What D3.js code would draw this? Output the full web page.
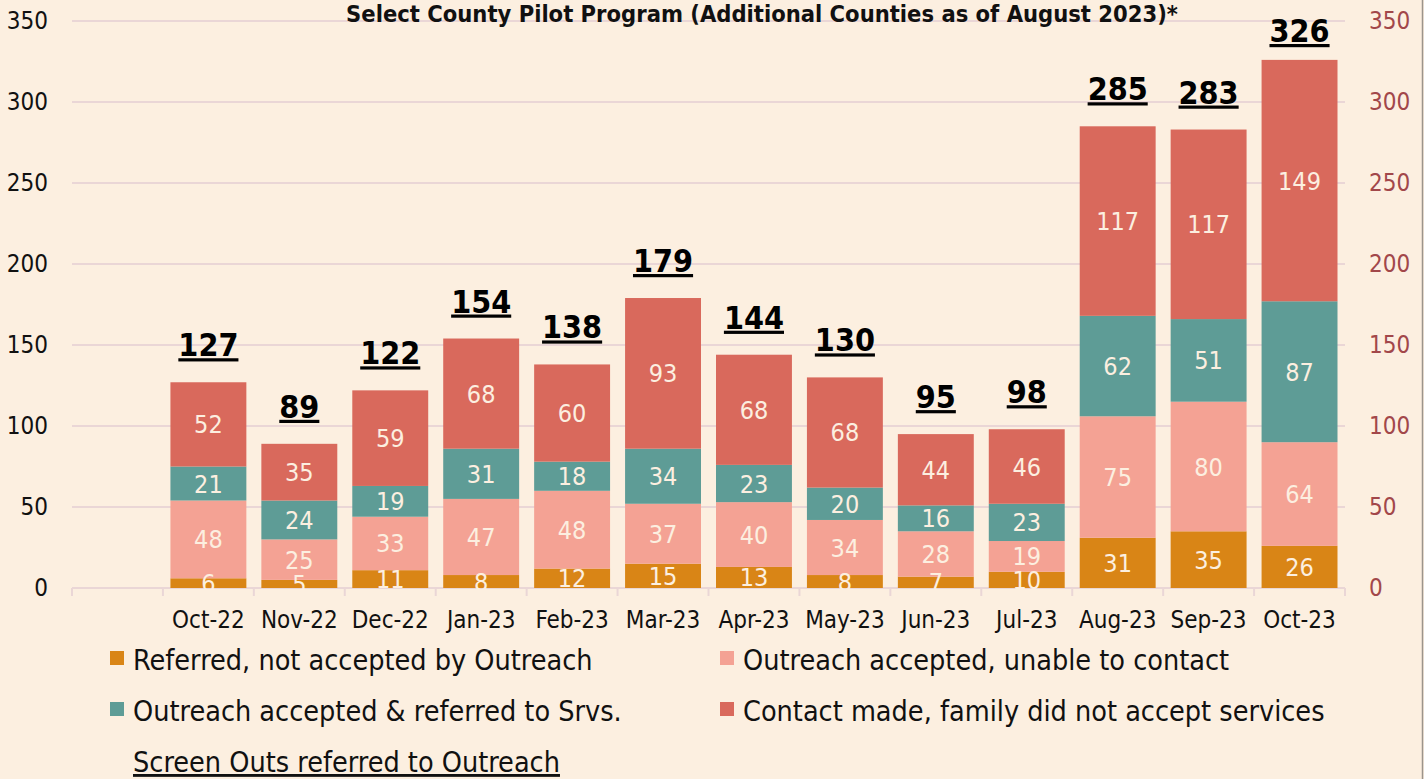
<!DOCTYPE html>
<html lang="en">
<head>
<meta charset="UTF-8">
<title>Screen Outs referred to Outreach</title>
<script src="https://cdn.jsdelivr.net/npm/d3@7"></script>
<style>
  body { margin: 0; background: #fcefe0; }
  svg { display: block; }
  text { font-family: "DejaVu Sans Condensed", "DejaVu Sans", sans-serif; }
</style>
</head>
<body>
<script>
// data
var months = ['Oct-22', 'Nov-22', 'Dec-22', 'Jan-23', 'Feb-23', 'Mar-23', 'Apr-23',
              'May-23', 'Jun-23', 'Jul-23', 'Aug-23', 'Sep-23', 'Oct-23'];
var notAccepted = [6, 5, 11, 8, 12, 15, 13, 8, 7, 10, 31, 35, 26];
var unableToContact = [48, 25, 33, 47, 48, 37, 40, 34, 28, 19, 75, 80, 64];
var referredToSrvs = [21, 24, 19, 31, 18, 34, 23, 20, 16, 23, 62, 51, 87];
var didNotAccept = [52, 35, 59, 68, 60, 93, 68, 68, 44, 46, 117, 117, 149];
var yTicks = [0, 50, 100, 150, 200, 250, 300, 350];

var seriesNames = ['Referred, not accepted by Outreach', 'Outreach accepted, unable to contact',
                   'Outreach accepted & referred to Srvs.', 'Contact made, family did not accept services'];
var colors = ['#d98516', '#f4a294', '#5e9c96', '#d9695c'];
var keys = ['a', 'b', 'c', 'd'];

var rows = months.map(function(m, i) {
  return { month: m, a: notAccepted[i], b: unableToContact[i], c: referredToSrvs[i], d: didNotAccept[i],
           total: notAccepted[i] + unableToContact[i] + referredToSrvs[i] + didNotAccept[i] };
});

var w = 1424, h = 779;
var plotL = 72, plotR = 1345, plotT = 21, plotB = 588;

var svg = d3.select('body').append('svg').attr('width', w).attr('height', h);
svg.append('rect').attr('width', w).attr('height', h).attr('fill', '#fcefe0');
svg.append('line').attr('x1', w - 1.5).attr('x2', w - 1.5).attr('y1', 0).attr('y2', h)
  .attr('stroke', '#9b948c').attr('stroke-width', 1.5);

// an empty slot comes first on the category axis
var xScale = d3.scaleBand()
  .domain([''].concat(months))
  .range([plotL, plotR])
  .paddingInner(0.165)
  .paddingOuter(0.0825);
var slot = xScale.step();

var yScale = d3.scaleLinear().domain([0, 350]).range([plotB, plotT]);

// gridlines
svg.append('g').selectAll('line').data(yTicks.slice(1)).enter().append('line')
  .attr('x1', plotL).attr('x2', plotR)
  .attr('y1', d => yScale(d)).attr('y2', d => yScale(d))
  .attr('stroke', '#ead6d6').attr('stroke-width', 2);

// left axis
var yAxis = d3.axisLeft(yScale).tickValues(yTicks).tickSize(0).tickPadding(24);
var gl = svg.append('g').attr('transform', 'translate(' + plotL + ',0)').call(yAxis);
gl.select('.domain').remove();
gl.selectAll('text').attr('font-size', 24).attr('fill', '#111')
  .style('font-family', '"DejaVu Sans Condensed", "DejaVu Sans", sans-serif');

// right axis
var yAxisR = d3.axisRight(yScale).tickValues(yTicks).tickSize(0).tickPadding(24);
var gr = svg.append('g').attr('transform', 'translate(' + plotR + ',0)').call(yAxisR);
gr.select('.domain').remove();
gr.selectAll('text').attr('font-size', 24).attr('fill', '#a2474a')
  .style('font-family', '"DejaVu Sans Condensed", "DejaVu Sans", sans-serif');
svg.append('g').selectAll('line').data(yTicks).enter().append('line')
  .attr('x1', plotR - 15).attr('x2', plotR)
  .attr('y1', d => yScale(d)).attr('y2', d => yScale(d))
  .attr('stroke', '#ead6d6').attr('stroke-width', 2);

// bottom axis
svg.append('line').attr('x1', plotL).attr('x2', plotR).attr('y1', plotB).attr('y2', plotB)
  .attr('stroke', '#ead6d6').attr('stroke-width', 2);
svg.append('g').selectAll('line').data(d3.range(15)).enter().append('line')
  .attr('x1', d => plotL + d * slot).attr('x2', d => plotL + d * slot)
  .attr('y1', plotB).attr('y2', plotB + 8)
  .attr('stroke', '#ead6d6').attr('stroke-width', 2);
svg.append('g').selectAll('text').data(months).enter().append('text')
  .attr('x', d => xScale(d) + xScale.bandwidth() / 2)
  .attr('y', 628)
  .attr('text-anchor', 'middle')
  .attr('font-size', 24)
  .attr('fill', '#111')
  .text(d => d);

// stacked bars
var stack = d3.stack().keys(keys)(rows);
var layers = svg.append('g').selectAll('g').data(stack).enter().append('g')
  .attr('fill', (d, i) => colors[i]);
layers.selectAll('rect').data(d => d).enter().append('rect')
  .attr('x', d => xScale(d.data.month))
  .attr('y', d => yScale(d[1]))
  .attr('width', xScale.bandwidth())
  .attr('height', d => yScale(d[0]) - yScale(d[1]));

// segment values, drawn after every rect so small ones sit on top
var segLabels = [];
stack.forEach(function(layer) {
  layer.forEach(function(p) { segLabels.push({ p: p, key: layer.key }); });
});
svg.append('g').selectAll('text').data(segLabels).enter().append('text')
  .attr('x', d => xScale(d.p.data.month) + xScale.bandwidth() / 2)
  .attr('y', d => (yScale(d.p[0]) + yScale(d.p[1])) / 2 + 9)
  .attr('text-anchor', 'middle')
  .attr('font-size', 25)
  .attr('fill', '#fcefe0')
  .text(d => d.p.data[d.key]);

// totals
svg.append('g').selectAll('text').data(rows).enter().append('text')
  .attr('x', d => xScale(d.month) + xScale.bandwidth() / 2)
  .attr('y', d => Math.max(yScale(d.total) - 26, 42))
  .attr('text-anchor', 'middle')
  .attr('font-size', 32)
  .attr('font-weight', 'bold')
  .attr('text-decoration', 'underline')
  .attr('fill', '#000')
  .text(d => d.total);

// title
svg.append('text')
  .attr('x', 762).attr('y', 22)
  .attr('text-anchor', 'middle')
  .attr('font-size', 23.5)
  .attr('font-weight', 'bold')
  .attr('fill', '#111')
  .text('Select County Pilot Program (Additional Counties as of August 2023)*');

// legend
var legendPos = [[110, 670], [720, 670], [110, 721], [720, 721]];
var lg = svg.append('g').selectAll('g').data(d3.range(4)).enter().append('g')
  .attr('transform', d => 'translate(' + legendPos[d][0] + ',' + legendPos[d][1] + ')');
lg.append('rect').attr('x', 0).attr('y', -19).attr('width', 14).attr('height', 14)
  .attr('fill', d => colors[d]);
lg.append('text').attr('x', 23).attr('y', 0)
  .attr('font-size', 28.5)
  .attr('fill', '#111')
  .text(d => seriesNames[d]);

svg.append('text')
  .attr('x', 133).attr('y', 772)
  .attr('font-size', 28.5)
  .attr('text-decoration', 'underline')
  .attr('fill', '#111')
  .text('Screen Outs referred to Outreach');
</script>
</body>
</html>
